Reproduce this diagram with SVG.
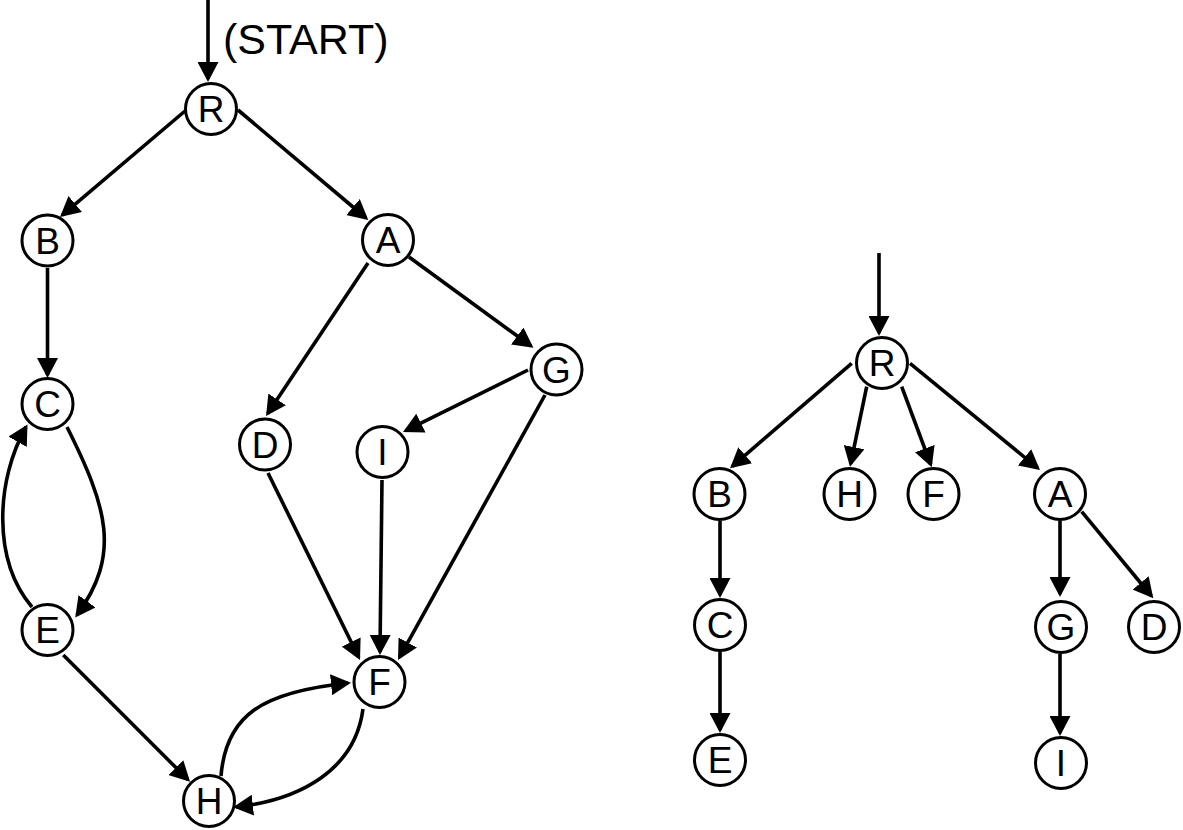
<svg xmlns="http://www.w3.org/2000/svg" width="1183" height="830" viewBox="0 0 1183 830">
<style>
.n circle{fill:#fff;stroke:#000;stroke-width:3}
.n text{font-family:"Liberation Sans",Arial,sans-serif;font-size:37px;text-anchor:middle;fill:#000}
#edges path{fill:none;stroke:#000;stroke-width:3.6;marker-end:url(#ah)}
.lbl{font-family:"Liberation Sans",Arial,sans-serif;font-size:43px;fill:#000}
</style>
<defs>
<marker id="ah" markerUnits="userSpaceOnUse" markerWidth="20" markerHeight="21" refX="17" refY="10.5" orient="auto" viewBox="0 0 20 21">
<path d="M0,0 L20,10.5 L0,21 z" fill="#000"/>
</marker>
</defs>
<g id="edges">
<path d="M208,0 L208,79"/>
<path d="M185,111 L62.3,215.1"/>
<path d="M238,110 L366,218"/>
<path d="M47.5,268 L47.5,375"/>
<path d="M67,427 C107,507 121.5,554 77,615"/>
<path d="M32,607 C-8,560 -4,480 26,427"/>
<path d="M63.3,655 L187.9,779.6"/>
<path d="M368,263 L267.7,413.5"/>
<path d="M409,257 L531,346"/>
<path d="M528,370 L405.7,430.7"/>
<path d="M545,395 L399.5,657.4"/>
<path d="M268,473 L358.7,657.3"/>
<path d="M382,480 L380,652"/>
<path d="M221,776 C226,715 262,692 348,683"/>
<path d="M363,709 C355,770 300,800 236,807"/>
<path d="M879,253 L879,333"/>
<path d="M851.7,363.3 L732.3,466.3"/>
<path d="M866.7,386.7 L850.6,463.8"/>
<path d="M901.7,386.7 L930.7,464.5"/>
<path d="M910,363.3 L1037.7,468.1"/>
<path d="M720,521 L720,595"/>
<path d="M720,652 L720,730"/>
<path d="M1060,521 L1060,594"/>
<path d="M1081.7,511.7 L1151.4,596"/>
<path d="M1060,654 L1060,733"/>
</g>
<text class="lbl" x="223" y="54">(START)</text>
<g id="L_R" class="n"><circle cx="211" cy="109" r="25.5"/><text x="211" y="122.2">R</text></g>
<g id="L_B" class="n"><circle cx="47.5" cy="240.5" r="25.5"/><text x="47.5" y="253.7">B</text></g>
<g id="L_A" class="n"><circle cx="388" cy="240" r="25.5"/><text x="388" y="253.2">A</text></g>
<g id="L_C" class="n"><circle cx="47.5" cy="404" r="25.5"/><text x="47.5" y="417.2">C</text></g>
<g id="L_G" class="n"><circle cx="556.5" cy="369.5" r="25.5"/><text x="556.5" y="382.7">G</text></g>
<g id="L_D" class="n"><circle cx="265" cy="444.5" r="25.5"/><text x="265" y="457.7">D</text></g>
<g id="L_I" class="n"><circle cx="382.5" cy="452" r="25.5"/><text x="382.5" y="465.2">I</text></g>
<g id="L_E" class="n"><circle cx="47.5" cy="630" r="25.5"/><text x="47.5" y="643.2">E</text></g>
<g id="L_F" class="n"><circle cx="379.5" cy="682" r="25.5"/><text x="379.5" y="695.2">F</text></g>
<g id="L_H" class="n"><circle cx="209" cy="801" r="25.5"/><text x="209" y="814.2">H</text></g>
<g id="R_R" class="n"><circle cx="882" cy="363" r="25.5"/><text x="882" y="376.2">R</text></g>
<g id="R_B" class="n"><circle cx="719.5" cy="494" r="25.5"/><text x="719.5" y="507.2">B</text></g>
<g id="R_H" class="n"><circle cx="849.5" cy="494" r="25.5"/><text x="849.5" y="507.2">H</text></g>
<g id="R_F" class="n"><circle cx="933.5" cy="494" r="25.5"/><text x="933.5" y="507.2">F</text></g>
<g id="R_A" class="n"><circle cx="1060" cy="494" r="25.5"/><text x="1060" y="507.2">A</text></g>
<g id="R_C" class="n"><circle cx="720" cy="625" r="25.5"/><text x="720" y="638.2">C</text></g>
<g id="R_G" class="n"><circle cx="1061" cy="627" r="25.5"/><text x="1061" y="640.2">G</text></g>
<g id="R_D" class="n"><circle cx="1154" cy="627" r="25.5"/><text x="1154" y="640.2">D</text></g>
<g id="R_E" class="n"><circle cx="720" cy="760" r="25.5"/><text x="720" y="773.2">E</text></g>
<g id="R_I" class="n"><circle cx="1061" cy="763" r="25.5"/><text x="1061" y="776.2">I</text></g>
</svg>
